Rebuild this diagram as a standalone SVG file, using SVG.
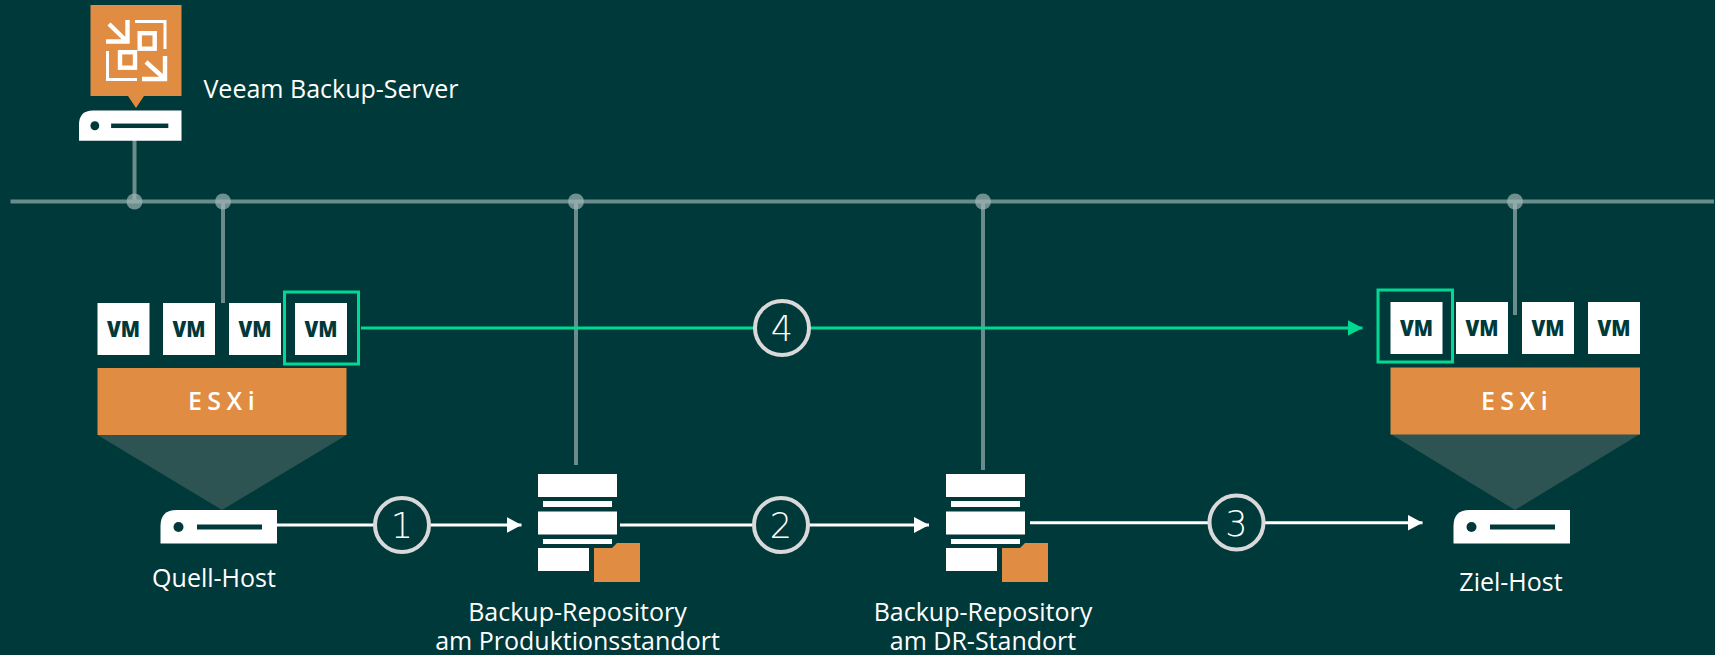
<svg xmlns="http://www.w3.org/2000/svg" width="1715" height="655" viewBox="0 0 1715 655">
<style>
.t{font-family:"Open Sans","Noto Sans","Liberation Sans",sans-serif;font-size:25px;fill:#fff;text-anchor:middle}
.vmt{font-family:"Open Sans","Noto Sans","Liberation Sans",sans-serif;font-size:22.500px;font-weight:800;fill:#00393a;text-anchor:middle}
.esx{font-family:"Open Sans","Noto Sans","Liberation Sans",sans-serif;font-size:25px;font-weight:600;fill:#fff;text-anchor:middle;letter-spacing:5.500px}
.num{font-family:"DejaVu Sans","Liberation Sans",sans-serif;font-size:35px;font-weight:200;fill:#fff;text-anchor:middle}
.bus{stroke:#6b8c8c;stroke-width:4;fill:none}
.flow{stroke:#fff;stroke-width:3;fill:none}
.green{stroke:#00d992;stroke-width:3;fill:none}
.badge{fill:#00393a;stroke:#d9d9d9;stroke-width:4}
.or{fill:#e08c42}
.w{fill:#fff}
.ic{fill:none;stroke:#fff;stroke-width:3}
.ic2{fill:none;stroke:#fff;stroke-width:4.400}
</style>
<defs>
<g id="vm"><rect class="w" width="52" height="52"/><text class="vmt" x="26" y="34" textLength="33" lengthAdjust="spacingAndGlyphs">VM</text></g>
<g id="host"><path class="w" d="M0 33.500V16Q0 0 16 0H116.500V33.500Z"/><circle cx="18" cy="17" r="5" fill="#00393a"/><rect x="36.500" y="14.500" width="65" height="5" fill="#00393a"/></g>
<g id="repo"><rect class="w" width="79" height="23"/><rect class="w" x="5" y="27" width="69" height="6"/><rect class="w" y="37.500" width="79" height="23"/><rect class="w" x="5" y="65" width="69" height="5"/><rect class="w" y="74" width="51" height="23"/><path class="or" d="M56 74H74L79 69H102V108H56Z"/></g>
<marker id="aw" markerUnits="userSpaceOnUse" markerWidth="16" markerHeight="16" refX="15" refY="8" orient="auto"><path d="M0 0L15 8L0 16Z" fill="#fff"/></marker>
<marker id="ag" markerUnits="userSpaceOnUse" markerWidth="16" markerHeight="16" refX="15" refY="8" orient="auto"><path d="M0 0L15 8L0 16Z" fill="#00d992"/></marker>
</defs>
<rect width="1715" height="655" fill="#00393a"/>
<g id="connectors">
<path class="bus" d="M10.500 201.500H1714M134.500 140V201.500M223 201.500V303M576 201.500V465M983 201.500V470M1515 201.500V315"/>
<g fill="#9fb5b5" opacity=".7"><circle cx="134.500" cy="201.500" r="8"/><circle cx="223" cy="201.500" r="8"/><circle cx="576" cy="201.500" r="8"/><circle cx="983" cy="201.500" r="8"/><circle cx="1515" cy="201.500" r="8"/></g>
<path class="flow" d="M277 525H521.500" marker-end="url(#aw)"/>
<path class="flow" d="M620 525H929" marker-end="url(#aw)"/>
<path class="flow" d="M1030 522.700H1422.500" marker-end="url(#aw)"/>
<path class="green" d="M361 328H1362.500" marker-end="url(#ag)"/>
</g>
<g id="backup-server">
<rect class="or" x="90.500" y="5" width="91" height="91"/>
<path class="or" d="M128 96H144L136 108Z"/>
<path class="ic" d="M135 21.500H165V49"/>
<rect class="ic2" x="139.700" y="33.200" width="15" height="15.500"/>
<rect class="ic2" x="120" y="52.200" width="15" height="15.500"/>
<path class="ic" d="M107.500 51V79.500H137"/>
<path class="ic2" d="M106 41.500H127.500V20M109 24L127 41.500"/>
<path class="ic2" d="M165 56V79H142M146 62L165 79"/>
<use href="#host" transform="translate(79 110.500) scale(.88 .9)"/>
<text class="t" x="331" y="98">Veeam Backup-Server</text>
</g>
<g id="source-vms">
<use href="#vm" x="97.500" y="303"/><use href="#vm" x="163" y="303"/><use href="#vm" x="229" y="303"/><use href="#vm" x="295" y="303"/>
<rect class="green" x="284.500" y="292" width="74" height="72"/>
</g>
<g id="source-esxi">
<path d="M97.500 435H346.500L222 510Z" fill="#2d5452"/>
<rect class="or" x="97.500" y="368" width="249" height="67"/>
<text class="esx" x="224" y="410">ESXi</text>
</g>
<g id="source-host"><use href="#host" x="160.500" y="510"/><text class="t" x="214" y="587">Quell-Host</text></g>
<g id="repo-prod"><use href="#repo" x="538" y="474"/><text class="t" x="577.500" y="621">Backup-Repository</text><text class="t" x="577.500" y="649.500">am Produktionsstandort</text></g>
<g id="repo-dr"><use href="#repo" x="946" y="474"/><text class="t" x="983" y="621">Backup-Repository</text><text class="t" x="983" y="649.500">am DR-Standort</text></g>
<g id="target-vms">
<use href="#vm" x="1390.500" y="302"/><use href="#vm" x="1456" y="302"/><use href="#vm" x="1522" y="302"/><use href="#vm" x="1588" y="302"/>
<rect class="green" x="1378" y="290" width="74.500" height="72"/>
</g>
<g id="target-esxi">
<path d="M1390.500 434H1640L1515 510Z" fill="#2d5452"/>
<rect class="or" x="1390.500" y="367.500" width="249.500" height="67"/>
<text class="esx" x="1517" y="409.500">ESXi</text>
</g>
<g id="target-host"><use href="#host" x="1453.500" y="510"/><text class="t" x="1511" y="591">Ziel-Host</text></g>
<g id="step-1"><circle class="badge" cx="402" cy="525" r="27"/><text class="num" x="402" y="538">1</text></g>
<g id="step-2"><circle class="badge" cx="781" cy="525" r="27"/><text class="num" x="781" y="538">2</text></g>
<g id="step-3"><circle class="badge" cx="1236.500" cy="522.500" r="27"/><text class="num" x="1236.500" y="535.500">3</text></g>
<g id="step-4"><circle class="badge" cx="782" cy="328" r="27"/><text class="num" x="782" y="341">4</text></g>
</svg>
